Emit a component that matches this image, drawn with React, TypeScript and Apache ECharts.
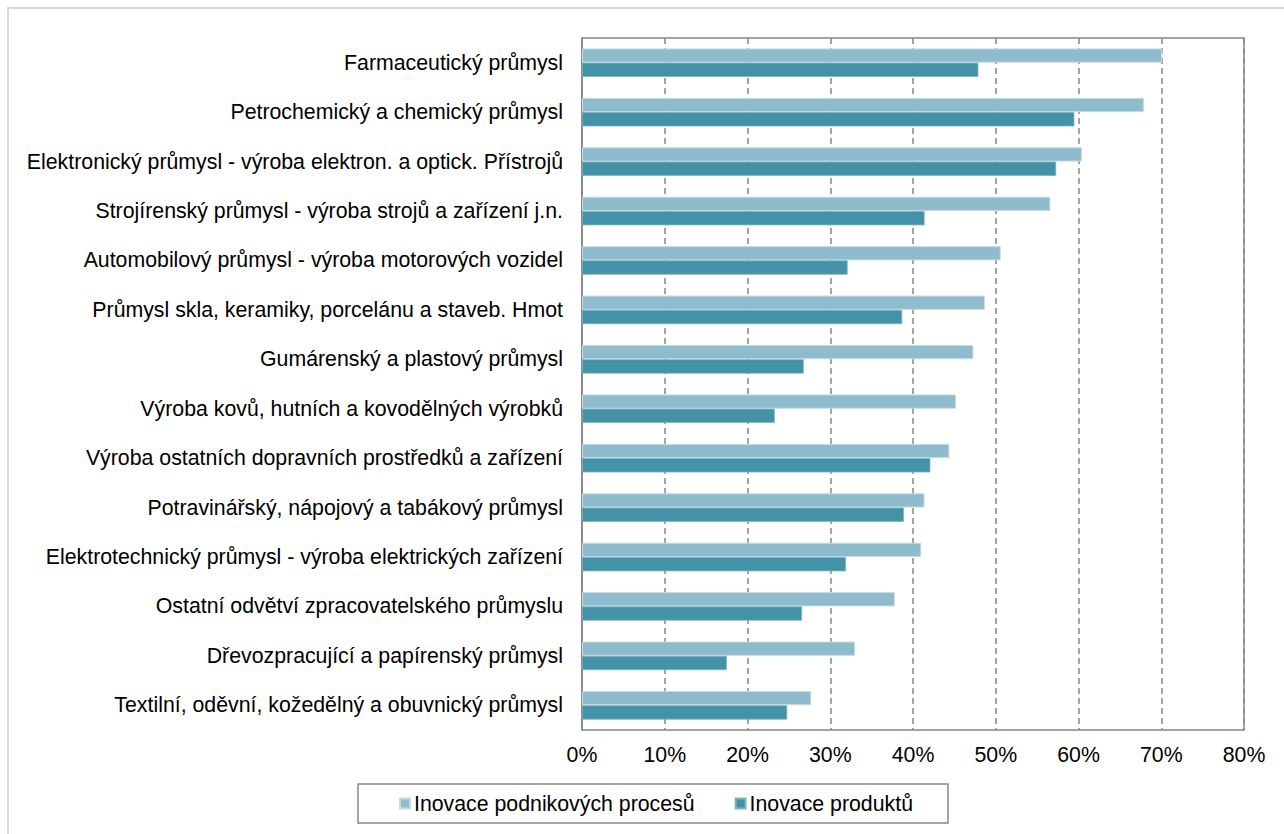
import React, { useEffect, useRef } from "react";
import * as echarts from "echarts";

const categories = [
  "Farmaceutický průmysl",
  "Petrochemický a chemický průmysl",
  "Elektronický průmysl - výroba elektron. a optick. Přístrojů",
  "Strojírenský průmysl - výroba strojů a zařízení j.n.",
  "Automobilový průmysl - výroba motorových vozidel",
  "Průmysl skla, keramiky, porcelánu a staveb. Hmot",
  "Gumárenský a plastový průmysl",
  "Výroba kovů, hutních a kovodělných výrobků",
  "Výroba ostatních dopravních prostředků a zařízení",
  "Potravinářský, nápojový a tabákový průmysl",
  "Elektrotechnický průmysl - výroba elektrických zařízení",
  "Ostatní odvětví zpracovatelského průmyslu",
  "Dřevozpracující a papírenský průmysl",
  "Textilní, oděvní, kožedělný a obuvnický průmysl",
];

const processInnovation = [70.1, 67.9, 60.4, 56.6, 50.6, 48.7, 47.3, 45.2, 44.4, 41.4, 41.0, 37.8, 33.0, 27.7];
const productInnovation = [47.9, 59.5, 57.3, 41.4, 32.1, 38.7, 26.8, 23.3, 42.1, 38.9, 31.9, 26.6, 17.5, 24.8];

const seriesNames = ["Inovace podnikových procesů", "Inovace produktů"];
const xTicks = { min: 0, max: 80, interval: 10 };

const FONT = '"Liberation Sans", Arial, sans-serif';
const FS = 21.3;

export default function App() {
  const ref = useRef<HTMLDivElement>(null);
  useEffect(() => {
    if (!ref.current) return;
    const chart = echarts.init(ref.current, null, { renderer: "svg" });
    chart.setOption({
      animation: false,
      textStyle: { fontFamily: FONT },
      graphic: [
        {
          type: "rect",
          shape: { x: 8, y: 8, width: 1400, height: 1000 },
          style: { fill: "none", stroke: "#d9d9d9", lineWidth: 2 },
          silent: true,
          z: -10,
        },
      ],
      grid: {
        left: 582,
        right: 40,
        top: 38,
        bottom: 104,
        show: true,
        borderColor: "#878787",
        borderWidth: 1.5,
        backgroundColor: "transparent",
      },
      legend: {
        left: 358,
        top: 784,
        orient: "horizontal",
        padding: [9, 35, 9, 41],
        itemGap: 40,
        itemWidth: 10,
        itemHeight: 10,
        borderColor: "#888888",
        borderWidth: 1.5,
        icon: "rect",
        textStyle: { fontSize: FS, color: "#000", fontFamily: FONT, padding: [0, 0, 0, -1] },
        data: seriesNames,
      },
      xAxis: {
        type: "value",
        min: xTicks.min,
        max: xTicks.max,
        interval: xTicks.interval,
        axisLine: { show: false },
        axisTick: { show: false },
        axisLabel: {
          formatter: "{value}%",
          fontSize: FS,
          color: "#000",
          margin: 14,
          fontFamily: FONT,
        },
        splitLine: {
          show: true,
          lineStyle: { color: "#878787", width: 1.5, type: [6, 4] },
        },
      },
      yAxis: {
        type: "category",
        inverse: true,
        data: categories,
        axisLine: { show: true, lineStyle: { color: "#878787", width: 1.5 } },
        axisTick: { show: false },
        axisLabel: { fontSize: FS, color: "#000", margin: 19, fontFamily: FONT },
      },
      series: [
        {
          name: seriesNames[0],
          type: "bar",
          data: processInnovation,
          barWidth: 14.3,
          barGap: "0%",
          itemStyle: { color: "#8fbccc", borderColor: "#c3dce5", borderWidth: 1 },
        },
        {
          name: seriesNames[1],
          type: "bar",
          data: productInnovation,
          barWidth: 14.3,
          barGap: "0%",
          itemStyle: { color: "#4392a7", borderColor: "#7fb3c2", borderWidth: 0.8 },
        },
      ],
    });
    return () => chart.dispose();
  }, []);
  return (
    <div
      ref={ref}
      style={{ position: "fixed", left: 0, top: 0, width: 1284, height: 834, background: "#fff" }}
    />
  );
}
